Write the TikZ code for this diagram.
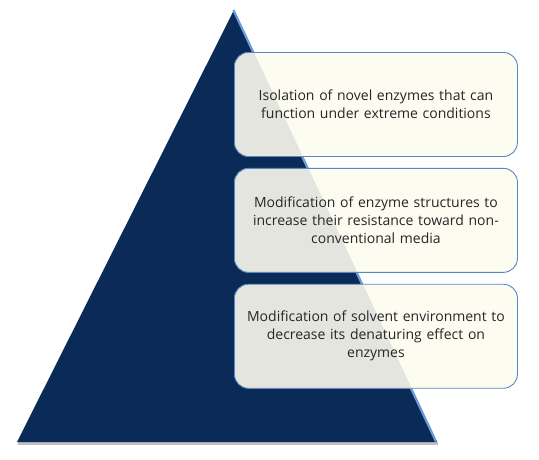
\documentclass[tikz,border=0pt]{standalone}
\usepackage{fontspec}
\setmainfont[WordSpace={1.5,1,1}]{Open Sans}
\usetikzlibrary{positioning}

\definecolor{navy}{HTML}{0A2B58}
\definecolor{edgeblue}{HTML}{6A9CDA}
\definecolor{cream}{HTML}{FDFCF1}
\definecolor{overlap}{HTML}{E5E5DF}
\definecolor{boxline}{HTML}{5B86BE}

\begin{document}
\begin{tikzpicture}[x=1pt,y=-1pt,
    level/.style={draw=boxline, line width=0.9pt, rounded corners=14pt,
        minimum width=283pt, minimum height=104pt, inner sep=0pt,
        text width=276pt, align=center, text=black!85,
        font=\fontsize{14}{18}\selectfont,
        path picture={\fill[overlap] (top) -- (bl) -- (br) -- cycle;}},
    levelbg/.style={fill=cream}]
        \useasboundingbox (0,0) rectangle (539,459);
        \def\apexx{234}\def\apexy{10}
        \def\leftx{17}\def\rightx{437}\def\basey{442}

        % pyramid
        \fill[black!25] (\leftx+1,\basey) -- (\rightx+1,\basey) -- (\rightx+1,\basey+2.5) -- (\leftx+1,\basey+2.5) -- cycle;
        \coordinate (top) at (\apexx,\apexy);
        \coordinate (bl) at (\leftx,\basey);
        \coordinate (br) at (\rightx,\basey);
        \fill[navy] (top) -- (bl) -- (br) -- cycle;
        \draw[edgeblue, line width=2.2pt, shorten >=0.5pt] ([xshift=-0.6pt]top) -- ([xshift=-0.8pt]br);

        % levels
        \node[level, levelbg, anchor=north west] (novel) at (234,52)
            {Isolation of novel enzymes that can\\ function under extreme conditions};
        \node[level, levelbg, below=11pt of novel] (structure)
            {Modification of enzyme structures to\\ increase their resistance toward non-\\ conventional media};
        \node[level, levelbg, below=11pt of structure] (solvent)
            {Modification of solvent environment to\\ decrease its denaturing effect on\\ enzymes};
\end{tikzpicture}
\end{document}
